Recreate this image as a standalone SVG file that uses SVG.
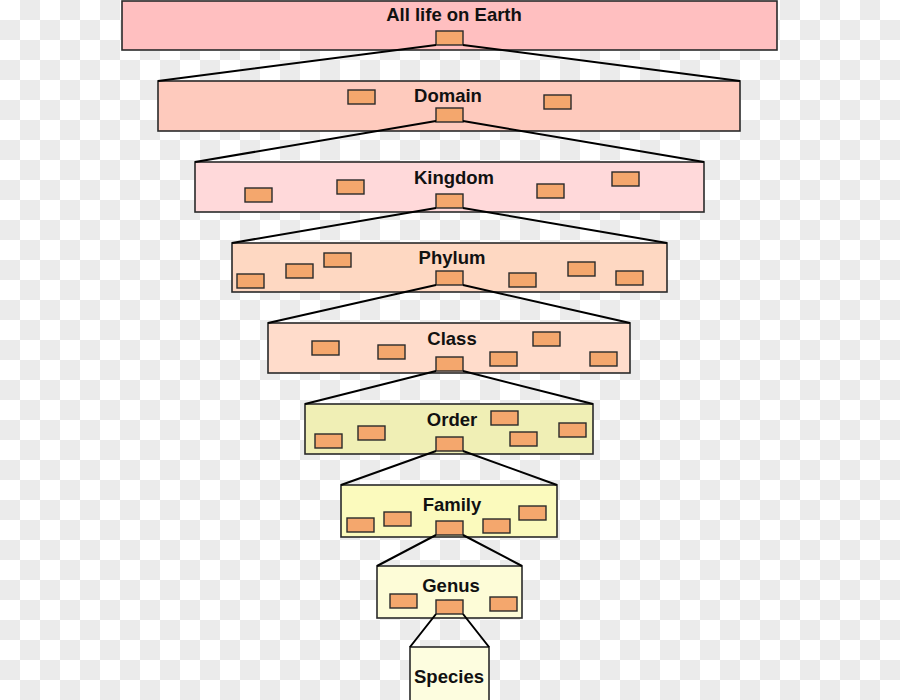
<svg xmlns="http://www.w3.org/2000/svg" width="900" height="700" viewBox="0 0 900 700">
<defs>
<pattern id="chk" width="40" height="40" patternUnits="userSpaceOnUse">
<rect width="40" height="40" fill="#ffffff"/>
<rect x="20" y="0" width="20" height="20" fill="#ebebeb"/>
<rect x="0" y="20" width="20" height="20" fill="#ebebeb"/>
</pattern>
</defs>
<style>
.lvl{stroke:#2a2a2a;stroke-width:1.6}
.b{fill:#f4a76d;stroke:#2a2a2a;stroke-width:1.4}
.t{font-family:"Liberation Sans",Arial,sans-serif;font-weight:bold;font-size:18.5px;fill:#111;text-anchor:middle}
.c{stroke:#000;stroke-width:2;fill:none}
</style>
<rect width="900" height="700" fill="url(#chk)"/>

<g id="all-life">
<rect class="lvl" x="122" y="1" width="655" height="49" fill="#ffbfc0"/>
<text class="t" x="454" y="21">All life on Earth</text>
<rect class="b" x="436" y="31" width="27" height="14"/>
</g>

<g id="domain">
<rect class="lvl" x="158" y="81" width="582" height="50" fill="#fecabd"/>
<text class="t" x="448" y="102">Domain</text>
<rect class="b" x="348" y="90" width="27" height="14"/>
<rect class="b" x="544" y="95" width="27" height="14"/>
<rect class="b" x="436" y="108" width="27" height="14"/>
</g>

<g id="kingdom">
<rect class="lvl" x="195" y="162" width="509" height="50" fill="#ffd9da"/>
<text class="t" x="454" y="184">Kingdom</text>
<rect class="b" x="245" y="188" width="27" height="14"/>
<rect class="b" x="337" y="180" width="27" height="14"/>
<rect class="b" x="537" y="184" width="27" height="14"/>
<rect class="b" x="612" y="172" width="27" height="14"/>
<rect class="b" x="436" y="194" width="27" height="14"/>
</g>

<g id="phylum">
<rect class="lvl" x="232" y="243" width="435" height="49" fill="#fed8c2"/>
<text class="t" x="452" y="264">Phylum</text>
<rect class="b" x="237" y="274" width="27" height="14"/>
<rect class="b" x="286" y="264" width="27" height="14"/>
<rect class="b" x="324" y="253" width="27" height="14"/>
<rect class="b" x="509" y="273" width="27" height="14"/>
<rect class="b" x="568" y="262" width="27" height="14"/>
<rect class="b" x="616" y="271" width="27" height="14"/>
<rect class="b" x="436" y="271" width="27" height="14"/>
</g>

<g id="class">
<rect class="lvl" x="268" y="323" width="362" height="50" fill="#ffdccb"/>
<text class="t" x="452" y="345">Class</text>
<rect class="b" x="312" y="341" width="27" height="14"/>
<rect class="b" x="378" y="345" width="27" height="14"/>
<rect class="b" x="490" y="352" width="27" height="14"/>
<rect class="b" x="533" y="332" width="27" height="14"/>
<rect class="b" x="590" y="352" width="27" height="14"/>
<rect class="b" x="436" y="357" width="27" height="14"/>
</g>

<g id="order">
<rect class="lvl" x="305" y="404" width="288" height="50" fill="#f0efb5"/>
<text class="t" x="452" y="426">Order</text>
<rect class="b" x="315" y="434" width="27" height="14"/>
<rect class="b" x="358" y="426" width="27" height="14"/>
<rect class="b" x="491" y="411" width="27" height="14"/>
<rect class="b" x="510" y="432" width="27" height="14"/>
<rect class="b" x="559" y="423" width="27" height="14"/>
<rect class="b" x="436" y="437" width="27" height="14"/>
</g>

<g id="family">
<rect class="lvl" x="341" y="485" width="216" height="52" fill="#fbfabd"/>
<text class="t" x="452" y="511">Family</text>
<rect class="b" x="347" y="518" width="27" height="14"/>
<rect class="b" x="384" y="512" width="27" height="14"/>
<rect class="b" x="483" y="519" width="27" height="14"/>
<rect class="b" x="519" y="506" width="27" height="14"/>
<rect class="b" x="436" y="521" width="27" height="14"/>
</g>

<g id="genus">
<rect class="lvl" x="377" y="566" width="145" height="52" fill="#fdfcd7"/>
<text class="t" x="451" y="592">Genus</text>
<rect class="b" x="390" y="594" width="27" height="14"/>
<rect class="b" x="490" y="597" width="27" height="14"/>
<rect class="b" x="436" y="600" width="27" height="14"/>
</g>

<g id="species">
<rect class="lvl" x="410" y="647" width="79" height="56" fill="#fdfddf"/>
<text class="t" x="449" y="683">Species</text>
</g>

<g id="connectors">
<path class="c" d="M436,45 L158,81 M463,45 L740,81"/>
<path class="c" d="M436,121 L195,162 M463,121 L704,162"/>
<path class="c" d="M436,208 L232,243 M463,208 L667,243"/>
<path class="c" d="M436,285 L268,323 M463,285 L630,323"/>
<path class="c" d="M436,371 L305,404 M463,371 L593,404"/>
<path class="c" d="M436,451 L341,485 M463,451 L557,485"/>
<path class="c" d="M436,535 L377,566 M463,535 L522,566"/>
<path class="c" d="M436,614 L410,647 M463,614 L489,647"/>
</g>
</svg>
